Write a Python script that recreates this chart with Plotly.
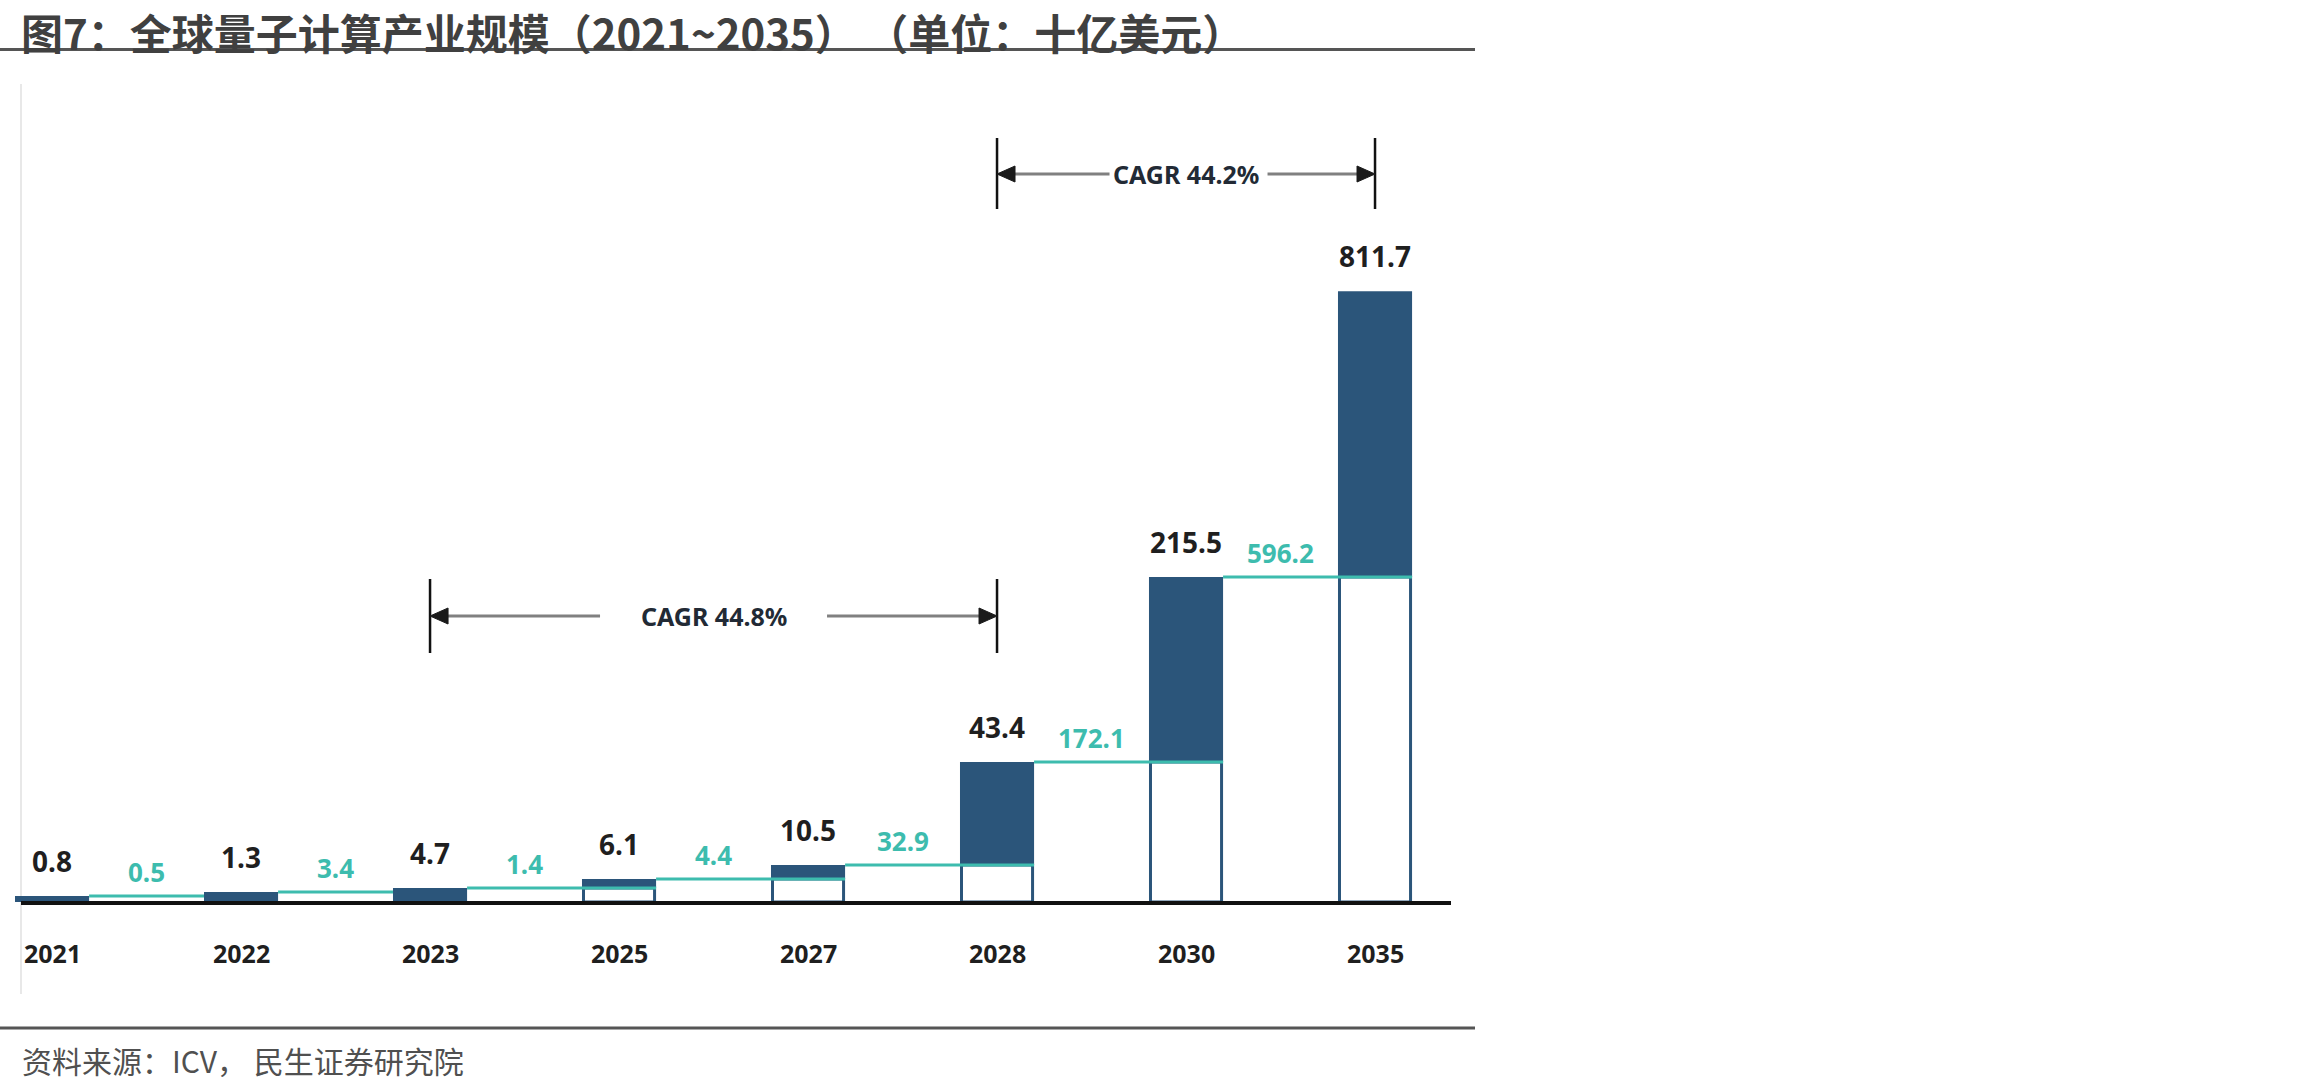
import plotly.graph_objects as go

# ---------------- data ----------------
years = ["2021", "2022", "2023", "2025", "2027", "2028", "2030", "2035"]
market_size = [0.8, 1.3, 4.7, 6.1, 10.5, 43.4, 215.5, 811.7]          # dark labels
increment = [0.5, 3.4, 1.4, 4.4, 32.9, 172.1, 596.2]                    # teal labels
# the source chart is not drawn to scale: apparent bar tops
# (expressed in units where the 2035 bar equals its value)
drawn_level = [8.0, 13.3, 18.6, 30.6, 49.2, 186.0, 431.8, 811.7]
cagr_spans = [("2023", "2028", "CAGR 44.8%"), ("2028", "2035", "CAGR 44.2%")]
title_text = "图7：全球量子计算产业规模（2021~2035） （单位：十亿美元）"
source_text = "资料来源：ICV， 民生证券研究院"

# ---------------- styles / layout ----------------
W, H = 2310, 1090
NAVY = "#2b557a"
TEAL = "#3dbcae"
DARK = "#1f1f1f"
GREY_TXT = "#404040"
NUM_FONT = "Noto Sans"
CJK_FONT = "Noto Sans CJK SC"

L_PX, R_PX, T_PX, B_PX = 15, 1451, 84, 902
plot_w, plot_h = R_PX - L_PX, B_PX - T_PX
X0, X1 = -0.196, 7.402
Y_TOP = 1087.0
BAR_W = 0.392
HW = BAR_W / 2
MIN_PREV_VISIBLE = 15.0

n = len(years)
xi = list(range(n))


def px_x(p):      # pixel column -> paper x
    return (p - L_PX) / plot_w


def px_y(p):      # pixel row -> paper y
    return (B_PX - p) / plot_h


def cat_px(i):
    return L_PX + (i - X0) / (X1 - X0) * plot_w


show_prev = [i > 0 and drawn_level[i - 1] >= MIN_PREV_VISIBLE for i in xi]

fig = go.Figure()

# white (previous total) parts
wx = [i for i in xi if show_prev[i]]
wy = [drawn_level[i - 1] for i in wx]
fig.add_trace(go.Bar(x=wx, y=wy, base=[0] * len(wx), width=BAR_W - 0.016,
                     marker=dict(color="white", line=dict(color=NAVY, width=3)),
                     hoverinfo="skip"))

# dark (increment) parts
dbase = [drawn_level[i - 1] if show_prev[i] else 0 for i in xi]
dy = [drawn_level[i] - dbase[i] for i in xi]
fig.add_trace(go.Bar(x=xi, y=dy, base=dbase, width=BAR_W,
                     marker=dict(color=NAVY, line=dict(width=0)),
                     hoverinfo="skip"))

# teal connector lines
lx, ly = [], []
for i in range(n - 1):
    end = i + 1 + HW if show_prev[i + 1] else i + 1 - HW
    lx += [i + HW, end, None]
    ly += [drawn_level[i], drawn_level[i], None]
fig.add_trace(go.Scatter(x=lx, y=ly, mode="lines",
                         line=dict(color=TEAL, width=3), hoverinfo="skip"))

ann = []
# dark value labels
for i in xi:
    ann.append(dict(x=i, y=drawn_level[i], xref="x", yref="y", text=f"{market_size[i]:.1f}",
                    showarrow=False, yanchor="bottom", yshift=14,
                    font=dict(family=NUM_FONT, size=28, color=DARK, weight="bold")))
# teal increment labels
for i, v in enumerate(increment):
    ann.append(dict(x=i + 0.5, y=drawn_level[i], xref="x", yref="y", text=f"{v:.1f}",
                    showarrow=False, yanchor="bottom", yshift=4,
                    font=dict(family=NUM_FONT, size=26, color=TEAL, weight="bold")))
# year labels
for i in xi:
    ann.append(dict(x=i, y=px_y(953), xref="x", yref="paper", text=years[i],
                    showarrow=False, yanchor="middle",
                    font=dict(family=NUM_FONT, size=25, color=DARK, weight="bold")))
# title and source
ann.append(dict(x=px_x(20), y=px_y(0), xref="paper", yref="paper", text=title_text,
                showarrow=False, xanchor="left", yanchor="top", borderpad=0,
                font=dict(family=CJK_FONT, size=42, color=GREY_TXT, weight="bold")))
ann.append(dict(x=px_x(20), y=px_y(1060), xref="paper", yref="paper", text=source_text,
                showarrow=False, xanchor="left", yanchor="middle",
                font=dict(family=CJK_FONT, size=30, color="#505050")))

shapes = []
# header / footer rules
shapes.append(dict(type="line", xref="paper", yref="paper", x0=px_x(0), x1=px_x(1475),
                   y0=px_y(49.5), y1=px_y(49.5), line=dict(color="#555555", width=3)))
shapes.append(dict(type="line", xref="paper", yref="paper", x0=px_x(0), x1=px_x(1475),
                   y0=px_y(1028), y1=px_y(1028), line=dict(color="#555555", width=3)))
# light left frame line
shapes.append(dict(type="line", xref="paper", yref="paper", x0=px_x(L_PX + 6), x1=px_x(L_PX + 6),
                   y0=px_y(84), y1=px_y(994), line=dict(color="#e8e8e8", width=2), layer="below"))
# baseline
shapes.append(dict(type="line", xref="paper", yref="paper", x0=px_x(L_PX + 6), x1=px_x(R_PX),
                   y0=px_y(903), y1=px_y(903), line=dict(color="#111111", width=4)))

# CAGR brackets
cagr_geo = [dict(y=616, y0=579, y1=653, gap_l=40, gap_r=40, tw=147),
            dict(y=174, y0=138, y1=209, gap_l=3, gap_r=8, tw=147)]
for (a, bb, txt), g in zip(cagr_spans, cagr_geo):
    ia, ib = years.index(a), years.index(bb)
    xa, xb = cat_px(ia), cat_px(ib)
    xm = (xa + xb) / 2
    for xv in (xa, xb):
        shapes.append(dict(type="line", xref="paper", yref="paper", x0=px_x(xv), x1=px_x(xv),
                           y0=px_y(g["y0"]), y1=px_y(g["y1"]), line=dict(color="#111111", width=2.5)))
    tl, tr = xm - g["tw"] / 2 - g["gap_l"], xm + g["tw"] / 2 + g["gap_r"]
    for p0, p1 in ((xa + 10, tl), (tr, xb - 10)):
        shapes.append(dict(type="line", xref="paper", yref="paper", x0=px_x(p0), x1=px_x(p1),
                           y0=px_y(g["y"]), y1=px_y(g["y"]), line=dict(color="#808080", width=3)))
    # arrowheads
    for tip, d in ((xa, 1), (xb, -1)):
        path = (f"M {px_x(tip)},{px_y(g['y'])} L {px_x(tip + d * 18)},{px_y(g['y'] - 8)} "
                f"L {px_x(tip + d * 18)},{px_y(g['y'] + 8)} Z")
        shapes.append(dict(type="path", xref="paper", yref="paper", path=path,
                           fillcolor="#1a1a1a", line=dict(color="#1a1a1a", width=1)))
    ann.append(dict(x=px_x(xm), y=px_y(g["y"]), xref="paper", yref="paper", text=txt,
                    showarrow=False, xanchor="center", yanchor="middle",
                    font=dict(family=NUM_FONT, size=25, color="#222a35", weight="bold")))

fig.update_layout(
    width=W, height=H, barmode="overlay", showlegend=False,
    paper_bgcolor="white", plot_bgcolor="white",
    margin=dict(l=L_PX, r=W - R_PX, t=T_PX, b=H - B_PX, pad=0),
    xaxis=dict(range=[X0, X1], visible=False, fixedrange=True),
    yaxis=dict(range=[0, Y_TOP], visible=False, fixedrange=True),
    annotations=ann, shapes=shapes,
)

fig.write_html("out.html", config={"displayModeBar": False})
